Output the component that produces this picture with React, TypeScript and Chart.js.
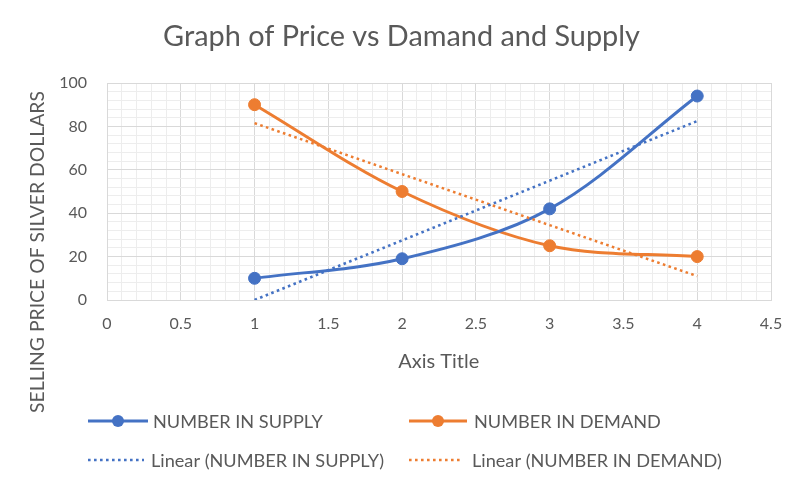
import React, { useEffect, useRef } from 'react';
import { Chart, registerables } from 'chart.js';

Chart.register(...registerables);

// ---- data ----
const titleText = 'Graph of Price vs Damand and Supply';
const xAxisTitle = 'Axis Title';
const yAxisTitle = 'SELLING PRICE OF SILVER DOLLARS';
const quantities = [1, 2, 3, 4];
const supplyPrices = [10, 19, 42, 94];
const demandPrices = [90, 50, 25, 20];
const trendX = [1, 4];
const supplyTrend = [0, 82.5];
const demandTrend = [81.5, 11];
const xTickLabels = [0, 0.5, 1, 1.5, 2, 2.5, 3, 3.5, 4, 4.5];
const yTickLabels = [0, 20, 40, 60, 80, 100];
const seriesNames = ['NUMBER IN SUPPLY', 'NUMBER IN DEMAND'];
const trendNames = ['Linear (NUMBER IN SUPPLY)', 'Linear (NUMBER IN DEMAND)'];

// ---- styles ----
const FONT = 'Lato';
const TEXT = '#595959';
const BLUE = '#4472C4';
const ORANGE = '#ED7D31';
const MAJOR = '#d9d9d9';
const MINOR = '#ededed';
const DOT_DASH = [2.6, 3.4];

const isIn = (arr: number[], v: number) => arr.some((t) => Math.abs(t - v) < 1e-6);

function fitSize(ctx: CanvasRenderingContext2D, text: string, target: number) {
  ctx.font = `100px ${FONT}`;
  const w = ctx.measureText(text).width;
  return (100 * target) / w;
}

const overlay = {
  id: 'overlay',
  afterDraw(chart: any) {
    const ctx: CanvasRenderingContext2D = chart.ctx;
    ctx.save();
    ctx.fillStyle = TEXT;
    ctx.textBaseline = 'alphabetic';

    // chart title
    ctx.textAlign = 'center';
    let s = fitSize(ctx, titleText, 477);
    ctx.font = `${s}px ${FONT}`;
    ctx.fillText(titleText, 401.5, 46);

    // x axis title
    s = fitSize(ctx, xAxisTitle, 81);
    ctx.font = `${s}px ${FONT}`;
    ctx.fillText(xAxisTitle, 438.7, 368);

    // y axis title
    s = fitSize(ctx, yAxisTitle, 322);
    ctx.font = `${s}px ${FONT}`;
    ctx.save();
    ctx.translate(43.5, 252);
    ctx.rotate(-Math.PI / 2);
    ctx.fillText(yAxisTitle, 0, 0);
    ctx.restore();

    // legend
    const ls = fitSize(ctx, trendNames[1], 250);
    ctx.font = `${ls}px ${FONT}`;
    ctx.textAlign = 'left';
    const cap = ls * 0.72;
    const cols = [
      { x0: 88, x1: 148, text: 153, color: BLUE },
      { x0: 409, x1: 467, text: 474, color: ORANGE },
    ];
    const rows = [421, 460];
    cols.forEach((c, i) => {
      // series entry
      ctx.strokeStyle = c.color;
      ctx.lineWidth = 3;
      ctx.setLineDash([]);
      ctx.beginPath();
      ctx.moveTo(c.x0, rows[0]);
      ctx.lineTo(c.x1, rows[0]);
      ctx.stroke();
      ctx.fillStyle = c.color;
      ctx.beginPath();
      ctx.arc((c.x0 + c.x1) / 2, rows[0], 6, 0, Math.PI * 2);
      ctx.fill();
      ctx.fillStyle = TEXT;
      ctx.fillText(seriesNames[i], c.text, rows[0] + cap / 2);
      // trend entry
      ctx.strokeStyle = c.color;
      ctx.lineWidth = 2.5;
      ctx.setLineDash(DOT_DASH);
      ctx.beginPath();
      ctx.moveTo(c.x0, rows[1]);
      ctx.lineTo(c.x1 - 4, rows[1]);
      ctx.stroke();
      ctx.setLineDash([]);
      ctx.fillStyle = TEXT;
      ctx.fillText(trendNames[i], c.text - 2, rows[1] + cap / 2);
    });
    ctx.restore();
  },
};

export default function App() {
  const ref = useRef<HTMLCanvasElement | null>(null);

  useEffect(() => {
    document.body.style.margin = '0';
    const canvas = ref.current;
    if (!canvas) return;
    Chart.defaults.font.family = FONT;

    const toPoints = (xs: number[], ys: number[]) => xs.map((x, i) => ({ x, y: ys[i] }));

    const chart = new Chart(canvas, {
      type: 'line',
      data: {
        datasets: [
          {
            label: trendNames[0],
            data: toPoints(trendX, supplyTrend),
            borderColor: BLUE,
            borderWidth: 2.5,
            borderDash: DOT_DASH,
            pointRadius: 0,
            tension: 0,
            order: 0,
          },
          {
            label: trendNames[1],
            data: toPoints(trendX, demandTrend),
            borderColor: ORANGE,
            borderWidth: 2.5,
            borderDash: DOT_DASH,
            pointRadius: 0,
            tension: 0,
            order: 0,
          },
          {
            label: seriesNames[0],
            data: toPoints(quantities, supplyPrices),
            borderColor: BLUE,
            backgroundColor: BLUE,
            borderWidth: 3,
            pointRadius: 6,
            pointBorderWidth: 1,
            pointBackgroundColor: BLUE,
            pointBorderColor: BLUE,
            tension: 0.33,
            order: 1,
          },
          {
            label: seriesNames[1],
            data: toPoints(quantities, demandPrices),
            borderColor: ORANGE,
            backgroundColor: ORANGE,
            borderWidth: 3,
            pointRadius: 6,
            pointBorderWidth: 1,
            pointBackgroundColor: ORANGE,
            pointBorderColor: ORANGE,
            tension: 0.33,
            order: 1,
          },
        ],
      },
      options: {
        animation: false,
        responsive: false,
        maintainAspectRatio: false,
        layout: { padding: { top: 83, right: 29, bottom: 102, left: 0 } },
        plugins: {
          legend: { display: false },
          title: { display: false },
          tooltip: { enabled: false },
        },
        scales: {
          x: {
            type: 'linear',
            min: 0,
            max: 4.5,
            afterFit: (scale: any) => {
              scale.height = 80;
            },
            ticks: {
              stepSize: 0.1,
              autoSkip: false,
              maxRotation: 0,
              minRotation: 0,
              padding: 14,
              color: TEXT,
              font: { size: 16, family: FONT },
              callback: (v: any) => {
                const t = xTickLabels.find((k) => Math.abs(k - Number(v)) < 1e-6);
                return t === undefined ? '' : String(t);
              },
            },
            grid: {
              drawTicks: false,
              lineWidth: 1,
              color: (c: any) => (c.tick && isIn(xTickLabels, c.tick.value) ? MAJOR : MINOR),
            },
            border: { color: MAJOR, width: 1 },
          },
          y: {
            type: 'linear',
            min: 0,
            max: 100,
            afterFit: (scale: any) => {
              scale.width = 107;
            },
            ticks: {
              stepSize: 4,
              autoSkip: false,
              padding: 20,
              color: TEXT,
              font: { size: 16, family: FONT },
              callback: (v: any) => {
                const t = yTickLabels.find((k) => Math.abs(k - Number(v)) < 1e-6);
                return t === undefined ? '' : String(t);
              },
            },
            grid: {
              drawTicks: false,
              lineWidth: 1,
              color: (c: any) => (c.tick && isIn(yTickLabels, c.tick.value) ? MAJOR : MINOR),
            },
            border: { color: MAJOR, width: 1 },
          },
        },
      },
      plugins: [overlay],
    } as any);

    return () => chart.destroy();
  }, []);

  return (
    <div style={{ width: 800, height: 482, background: '#ffffff' }}>
      <canvas ref={ref} width={800} height={482} style={{ display: 'block', width: 800, height: 482 }} />
    </div>
  );
}
